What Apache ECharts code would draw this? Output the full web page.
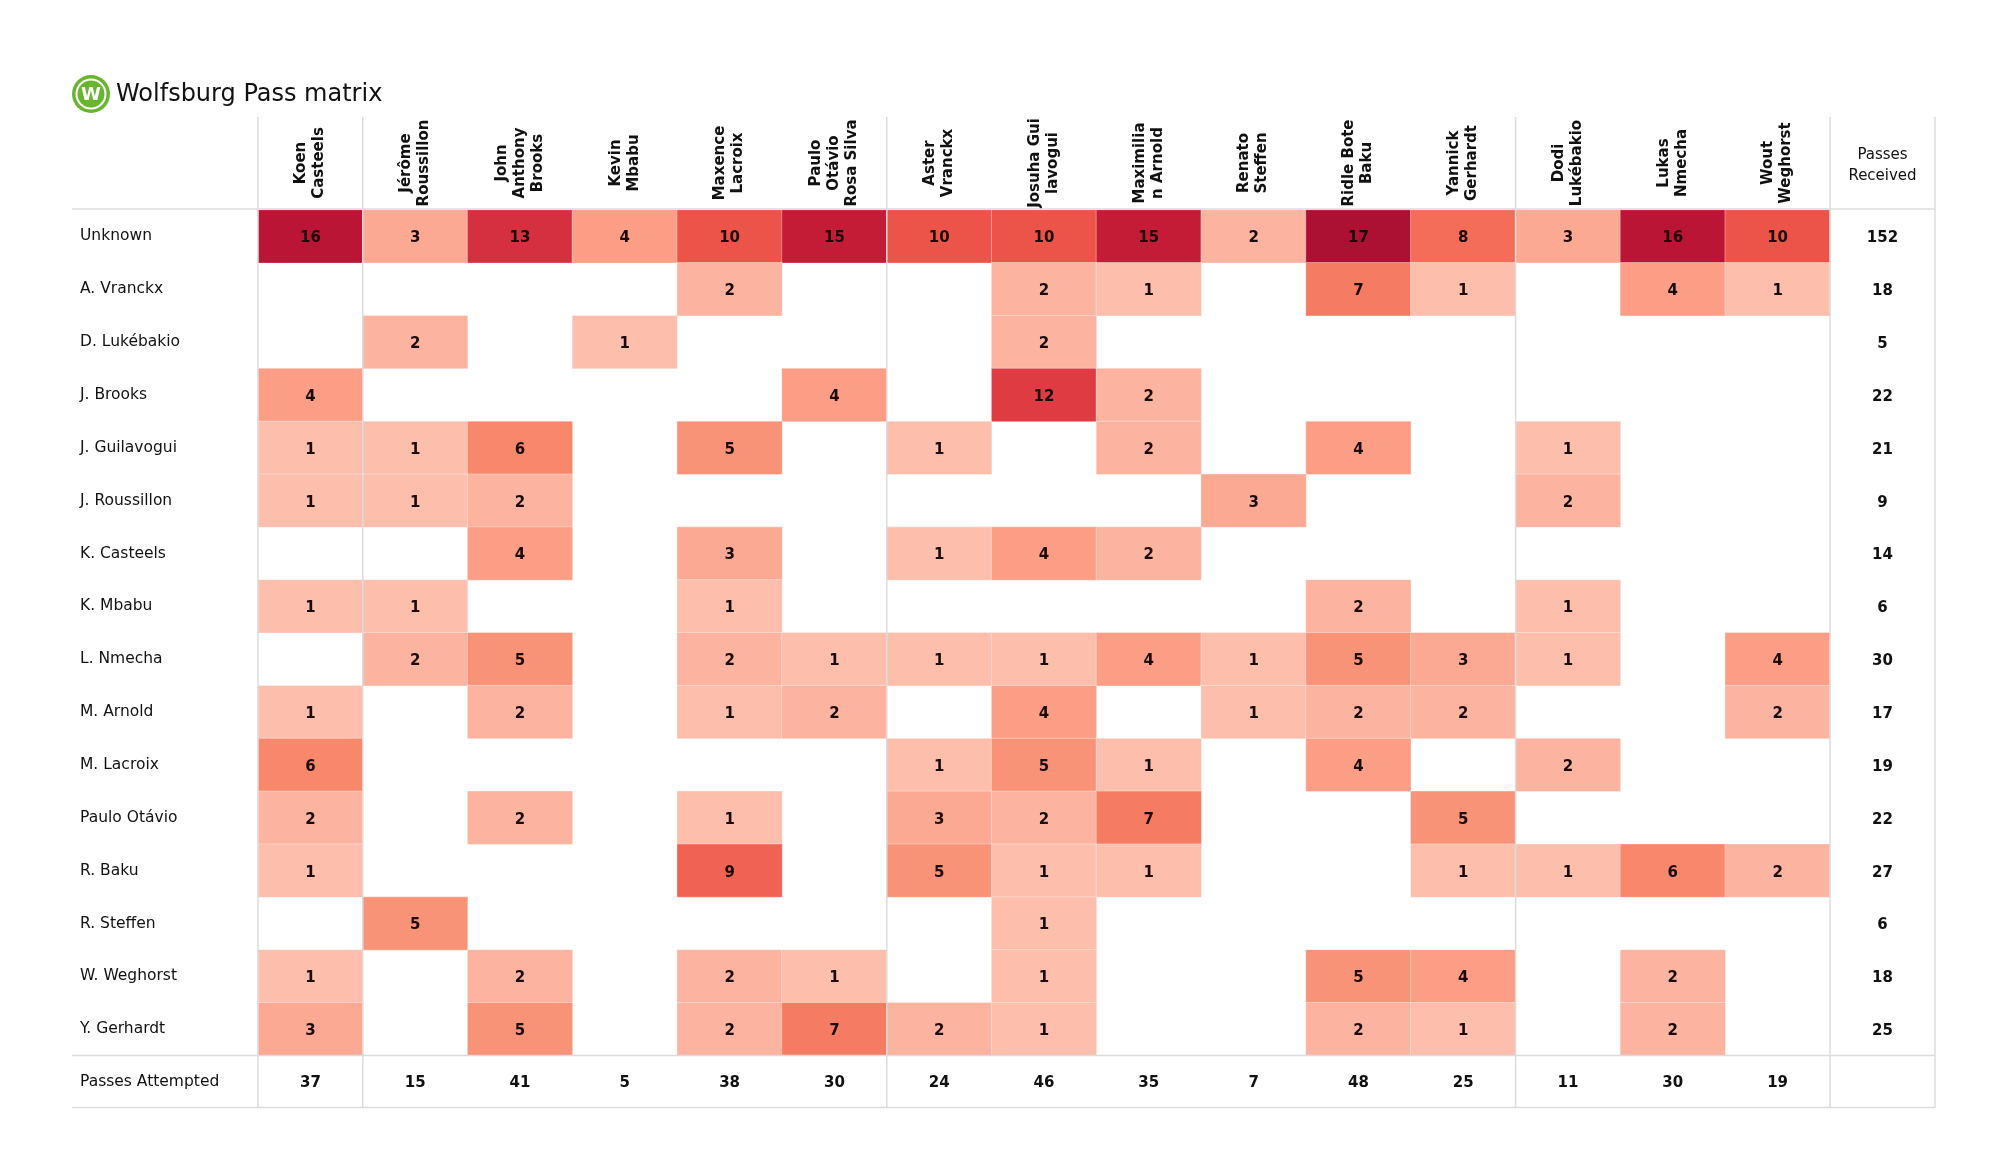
<!DOCTYPE html>
<html>
<head>
<meta charset="utf-8">
<script src="https://cdn.jsdelivr.net/npm/echarts@6/dist/echarts.min.js"></script>
<style>
html,body{margin:0;padding:0;background:#fff;}
#chart{width:2000px;height:1175px;}
</style>
</head>
<body>
<div id="chart"></div>
<script>
// ---- data ----
const passers = ['Koen\nCasteels','Jérôme\nRoussillon','John\nAnthony\nBrooks','Kevin\nMbabu','Maxence\nLacroix','Paulo\nOtávio\nRosa Silva','Aster\nVranckx','Josuha Gui\nlavogui','Maximilia\nn Arnold','Renato\nSteffen','Ridle Bote\nBaku','Yannick\nGerhardt','Dodi\nLukébakio','Lukas\nNmecha','Wout\nWeghorst'];
const receivers = ['Unknown','A. Vranckx','D. Lukébakio','J. Brooks','J. Guilavogui','J. Roussillon','K. Casteels','K. Mbabu','L. Nmecha','M. Arnold','M. Lacroix','Paulo Otávio','R. Baku','R. Steffen','W. Weghorst','Y. Gerhardt'];

const rowUnknown      = [16,3,13,4,10,15,10,10,15,2,17,8,3,16,10];
const rowAVranckx     = [0,0,0,0,2,0,0,2,1,0,7,1,0,4,1];
const rowDLukebakio   = [0,2,0,1,0,0,0,2,0,0,0,0,0,0,0];
const rowJBrooks      = [4,0,0,0,0,4,0,12,2,0,0,0,0,0,0];
const rowJGuilavogui  = [1,1,6,0,5,0,1,0,2,0,4,0,1,0,0];
const rowJRoussillon  = [1,1,2,0,0,0,0,0,0,3,0,0,2,0,0];
const rowKCasteels    = [0,0,4,0,3,0,1,4,2,0,0,0,0,0,0];
const rowKMbabu       = [1,1,0,0,1,0,0,0,0,0,2,0,1,0,0];
const rowLNmecha      = [0,2,5,0,2,1,1,1,4,1,5,3,1,0,4];
const rowMArnold      = [1,0,2,0,1,2,0,4,0,1,2,2,0,0,2];
const rowMLacroix     = [6,0,0,0,0,0,1,5,1,0,4,0,2,0,0];
const rowPauloOtavio  = [2,0,2,0,1,0,3,2,7,0,0,5,0,0,0];
const rowRBaku        = [1,0,0,0,9,0,5,1,1,0,0,1,1,6,2];
const rowRSteffen     = [0,5,0,0,0,0,0,1,0,0,0,0,0,0,0];
const rowWWeghorst    = [1,0,2,0,2,1,0,1,0,0,5,4,0,2,0];
const rowYGerhardt    = [3,0,5,0,2,7,2,1,0,0,2,1,0,2,0];

const passesReceived  = [152,18,5,22,21,9,14,6,30,17,19,22,27,6,18,25];
const passesAttempted = [37,15,41,5,38,30,24,46,35,7,48,25,11,30,19];
const receivedHeader  = ['Passes\nReceived'];
const attemptedHeader = ['Passes Attempted'];
const titleText = 'Wolfsburg Pass matrix';

const matrixRows = [rowUnknown,rowAVranckx,rowDLukebakio,rowJBrooks,rowJGuilavogui,rowJRoussillon,rowKCasteels,rowKMbabu,rowLNmecha,rowMArnold,rowMLacroix,rowPauloOtavio,rowRBaku,rowRSteffen,rowWWeghorst,rowYGerhardt];

// ---- layout ----
const FONT = 'DejaVu Sans';
const X0 = 258, CW = 104.8, NC = passers.length;
const Y0 = 210, RH = 52.85, NR = receivers.length;
const RW = 105;
const gridRight = X0 + NC * CW;        // 1830
const gridBottom = Y0 + NR * RH;       // ~1056
const bottomRowH = 52;
const LEFT = 72, TOP = 117;

const heatData = [];
matrixRows.forEach((row, r) => row.forEach((v, c) => { if (v > 0) heatData.push([c, r, v]); }));
const recvData = passesReceived.map((v, r) => [0, r, v]);
const attData = passesAttempted.map((v, c) => [c, 0, v]);

const lineStyle = {stroke: '#dcdcdc', lineWidth: 1.5};
const graphics = [];
[0, 1, 6, 12, 15].forEach(i => {
  const x = X0 + i * CW;
  graphics.push({type: 'line', shape: {x1: x, y1: TOP, x2: x, y2: gridBottom + bottomRowH}, style: lineStyle, z: 10});
});
graphics.push({type: 'line', shape: {x1: gridRight + RW, y1: TOP, x2: gridRight + RW, y2: gridBottom + bottomRowH}, style: lineStyle, z: 10});
[Y0 - 1, gridBottom, gridBottom + bottomRowH].forEach(y => {
  graphics.push({type: 'line', shape: {x1: LEFT, y1: y, x2: gridRight + RW, y2: y}, style: lineStyle, z: 10});
});
// logo
graphics.push({type: 'circle', shape: {cx: 91, cy: 94, r: 19}, style: {fill: '#6ab530'}});
graphics.push({type: 'circle', shape: {cx: 91, cy: 94, r: 15.5}, style: {fill: '#ffffff'}});
graphics.push({type: 'circle', shape: {cx: 91, cy: 94, r: 13.5}, style: {fill: '#6ab530'}});
graphics.push({type: 'text', style: {text: 'W', x: 91, y: 95, fill: '#ffffff', font: 'bold 18px "DejaVu Sans"', textAlign: 'center', textVerticalAlign: 'middle'}});
graphics.push({type: 'text', style: {text: titleText, x: 116, y: 95, fill: '#111', font: '24px "DejaVu Sans"', textAlign: 'left', textVerticalAlign: 'middle'}});

const hiddenCat = (data, gi) => ({type: 'category', gridIndex: gi, data: data, axisLine: {show: false}, axisTick: {show: false}, axisLabel: {show: false}, splitLine: {show: false}});

const option = {
  animation: false,
  backgroundColor: '#ffffff',
  textStyle: {fontFamily: FONT},
  graphic: graphics,
  grid: [
    {left: X0, top: Y0, width: NC * CW, height: NR * RH},
    {left: gridRight, top: Y0, width: RW, height: NR * RH},
    {left: X0, top: gridBottom, width: NC * CW, height: bottomRowH}
  ],
  xAxis: [
    {type: 'category', gridIndex: 0, position: 'top', data: passers,
     axisLine: {show: false}, axisTick: {show: false}, splitLine: {show: false},
     axisLabel: {interval: 0, rotate: -90, align: 'center', margin: 47, fontFamily: FONT, fontWeight: 'bold', fontSize: 15, lineHeight: 18, color: '#111'}},
    {type: 'category', gridIndex: 1, position: 'top', data: receivedHeader,
     axisLine: {show: false}, axisTick: {show: false}, splitLine: {show: false},
     axisLabel: {interval: 0, margin: 23, fontFamily: FONT, fontSize: 15, lineHeight: 21, color: '#111', align: 'center'}},
    hiddenCat(passers, 2)
  ],
  yAxis: [
    {type: 'category', gridIndex: 0, inverse: true, data: receivers,
     axisLine: {show: false}, axisTick: {show: false}, splitLine: {show: false},
     axisLabel: {interval: 0, align: 'left', margin: X0 - 80, padding: [4, 0, 0, 0], fontFamily: FONT, fontSize: 15.5, color: '#111'}},
    Object.assign(hiddenCat(receivers, 1), {inverse: true}),
    {type: 'category', gridIndex: 2, data: attemptedHeader,
     axisLine: {show: false}, axisTick: {show: false}, splitLine: {show: false},
     axisLabel: {interval: 0, align: 'left', margin: X0 - 80, padding: [4, 0, 0, 0], fontFamily: FONT, fontSize: 15.5, color: '#111'}}
  ],
  visualMap: {
    type: 'continuous', show: false, seriesIndex: 0, dimension: 2, min: 1, max: 17,
    inRange: {color: ['#fdbeac','#fcb3a0','#fca993','#fb9e85','#f99378','#f7886c','#f57c62','#f36d58','#f06251','#ec5449','#e64644','#df3b43','#d5303f','#cc243b','#c41b37','#ba1535','#ac1133']}
  },
  series: [
    {type: 'heatmap', xAxisIndex: 0, yAxisIndex: 0, data: heatData,
     itemStyle: {borderColor: 'rgba(255,255,255,0.35)', borderWidth: 1},
     label: {show: true, offset: [0, 2], formatter: p => p.value[2], fontFamily: FONT, fontWeight: 'bold', fontSize: 15, color: '#1a0a0a'}},
    {type: 'heatmap', xAxisIndex: 1, yAxisIndex: 1, data: recvData,
     itemStyle: {color: 'rgba(0,0,0,0)'},
     label: {show: true, offset: [0, 2], formatter: p => p.value[2], fontFamily: FONT, fontWeight: 'bold', fontSize: 15, color: '#111'}},
    {type: 'heatmap', xAxisIndex: 2, yAxisIndex: 2, data: attData,
     itemStyle: {color: 'rgba(0,0,0,0)'},
     label: {show: true, offset: [0, 2], formatter: p => p.value[2], fontFamily: FONT, fontWeight: 'bold', fontSize: 15, color: '#111'}}
  ]
};

const chart = echarts.init(document.getElementById('chart'), null, {renderer: 'canvas'});
chart.setOption(option);
</script>
</body>
</html>
